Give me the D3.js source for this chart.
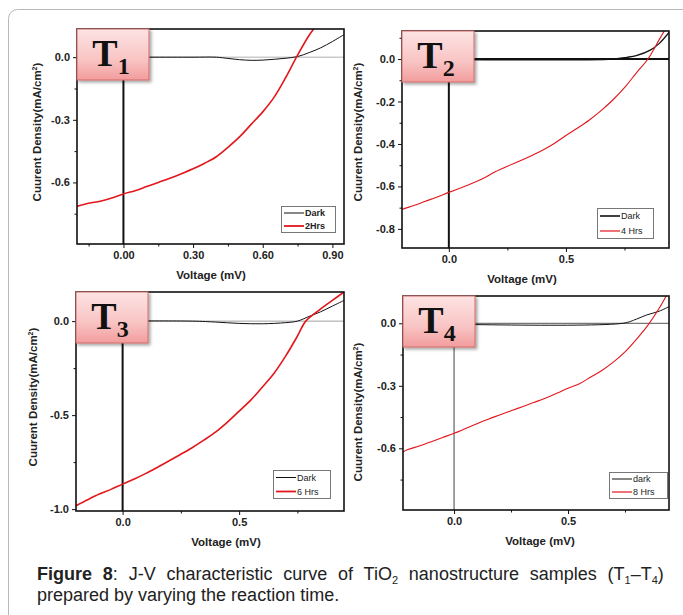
<!DOCTYPE html>
<html>
<head>
<meta charset="utf-8">
<script src="https://cdn.jsdelivr.net/npm/d3@7"></script>
<style>
  body { margin: 0; background: #fff; }
  svg { display: block; }
</style>
</head>
<body>
<svg id="fig" width="683" height="615"></svg>
<script>
// J-V curves, four samples (T1..T4): voltage (mV) vs current density (mA/cm2)
const panelNames = ["1", "2", "3", "4"];
const legendLabels = [["Dark", "2Hrs"], ["Dark", "4 Hrs"], ["Dark", "6 Hrs"], ["dark", "8 Hrs"]];

const voltT1Red = [-0.2, -0.15, -0.1, -0.05, 0, 0.05, 0.1, 0.15, 0.2, 0.25, 0.3, 0.35, 0.4, 0.45, 0.5, 0.55, 0.6, 0.65, 0.7, 0.75, 0.8, 0.83];
const currT1Red = [-0.715, -0.70, -0.69, -0.675, -0.655, -0.64, -0.62, -0.60, -0.58, -0.558, -0.535, -0.508, -0.477, -0.432, -0.382, -0.322, -0.262, -0.19, -0.095, 0.01, 0.105, 0.15];
const voltT1Dark = [-0.2, 0.1, 0.3, 0.4, 0.45, 0.5, 0.55, 0.6, 0.65, 0.7, 0.75, 0.8, 0.85, 0.9, 0.95];
const currT1Dark = [0, 0, 0, 0, -0.006, -0.012, -0.015, -0.014, -0.01, -0.005, 0.003, 0.022, 0.045, 0.075, 0.108];

const voltT2Red = [-0.2, -0.15, -0.1, -0.05, 0, 0.05, 0.1, 0.15, 0.2, 0.25, 0.3, 0.35, 0.4, 0.45, 0.5, 0.55, 0.6, 0.65, 0.7, 0.75, 0.8, 0.85, 0.9, 0.94];
const currT2Red = [-0.708, -0.69, -0.67, -0.65, -0.628, -0.607, -0.585, -0.56, -0.53, -0.505, -0.482, -0.457, -0.43, -0.398, -0.36, -0.325, -0.287, -0.243, -0.193, -0.135, -0.066, 0.0, 0.095, 0.17];
const voltT2Dark = [-0.2, 0.7, 0.76, 0.8, 0.86, 0.9, 0.94];
const currT2Dark = [0, 0, 0.008, 0.016, 0.042, 0.075, 0.125];

const voltT3Red = [-0.2, -0.15, -0.1, -0.05, 0, 0.05, 0.1, 0.15, 0.2, 0.25, 0.3, 0.35, 0.4, 0.45, 0.5, 0.55, 0.6, 0.65, 0.7, 0.75, 0.786, 0.85, 0.9, 0.95];
const currT3Red = [-0.982, -0.95, -0.92, -0.895, -0.867, -0.84, -0.81, -0.777, -0.743, -0.708, -0.672, -0.632, -0.589, -0.537, -0.479, -0.42, -0.35, -0.277, -0.185, -0.08, 0.0, 0.065, 0.11, 0.155];
const voltT3Dark = [-0.2, 0.3, 0.4, 0.5, 0.6, 0.7, 0.75, 0.8, 0.85, 0.9, 0.95];
const currT3Dark = [0, 0, -0.005, -0.012, -0.014, -0.008, 0, 0.025, 0.05, 0.08, 0.11];

const voltT4Red = [-0.224, -0.2, -0.15, -0.1, -0.05, 0, 0.05, 0.1, 0.15, 0.2, 0.25, 0.3, 0.35, 0.4, 0.45, 0.5, 0.55, 0.6, 0.65, 0.7, 0.75, 0.8, 0.85, 0.9, 0.94];
const currT4Red = [-0.618, -0.605, -0.588, -0.568, -0.548, -0.528, -0.505, -0.482, -0.46, -0.44, -0.42, -0.40, -0.38, -0.36, -0.336, -0.312, -0.29, -0.258, -0.225, -0.185, -0.137, -0.077, -0.01, 0.072, 0.15];
const voltT4Dark = [-0.224, 0.74, 0.8, 0.845, 0.9, 0.943];
const currT4Dark = [0, 0, 0.02, 0.04, 0.058, 0.08];

// axis ranges and tick values
const xDomains = [[-0.2, 0.95], [-0.2, 0.94], [-0.2, 0.95], [-0.224, 0.943]];
const yDomains = [[-0.895, 0.135], [-0.89, 0.132], [-1.01, 0.155], [-0.896, 0.131]];
const xTickVals = [[0, 0.3, 0.6, 0.9], [0, 0.5], [0, 0.5], [0, 0.5]];
const xMinorVals = [[-0.15, 0.15, 0.45, 0.75], [0.25, 0.75], [0.25, 0.75], [0.25, 0.75]];
const yTickVals = [[0, -0.3, -0.6], [0, -0.2, -0.4, -0.6, -0.8], [0, -0.5, -1.0], [0, -0.3, -0.6]];
const yMinorVals = [[-0.15, -0.45, -0.75], [0.1, -0.1, -0.3, -0.5, -0.7], [-0.25, -0.75], [-0.15, -0.45, -0.75]];
const xTickFormats = [".2f", ".1f", ".1f", ".1f"];

const redColor = "#e3161b";
const sans = "'Liberation Sans', Arial, sans-serif";

// where each panel sits on the page
const layout = [
  { left: 77, right: 344, top: 29, bottom: 244, xTitleX: 211, yTitleY: 132, yTitleDx: 40,
    legend: [281, 206, 54, 26], redWidth: 1.6, zeroColor: "#b0b0b0", zeroWidth: 1, vWidth: 2, legendBold: true },
  { left: 402, right: 669, top: 31, bottom: 248, xTitleX: 522, yTitleY: 132, yTitleDx: 44,
    legend: [597, 208, 56, 30], redWidth: 1.1, zeroColor: "#111", zeroWidth: 2, vWidth: 2, legendBold: false },
  { left: 76, right: 344, top: 292, bottom: 511, xTitleX: 226, yTitleY: 397, yTitleDx: 43,
    legend: [273, 470, 57, 28], redWidth: 1.6, zeroColor: "#a0a0a0", zeroWidth: 1, vWidth: 2, legendBold: false },
  { left: 403, right: 669, top: 296, bottom: 510, xTitleX: 540, yTitleY: 412, yTitleDx: 45,
    legend: [609, 472, 58, 26], redWidth: 1.1, zeroColor: "#555", zeroWidth: 1, vWidth: 1, legendBold: false }
];

const redSeries = [[voltT1Red, currT1Red], [voltT2Red, currT2Red], [voltT3Red, currT3Red], [voltT4Red, currT4Red]];
const darkSeries = [[voltT1Dark, currT1Dark], [voltT2Dark, currT2Dark], [voltT3Dark, currT3Dark], [voltT4Dark, currT4Dark]];

const svg = d3.select("#fig");

// outer rounded frame
svg.append("rect")
  .attr("x", 8.5).attr("y", 9.5)
  .attr("width", 700).attr("height", 640)
  .attr("rx", 9)
  .attr("fill", "none")
  .attr("stroke", "#b8b8b8")
  .attr("stroke-width", 1);

const defs = svg.append("defs");
const grad = defs.append("linearGradient")
  .attr("id", "pinkGrad")
  .attr("x1", 0).attr("y1", 0).attr("x2", 0).attr("y2", 1);
grad.append("stop").attr("offset", "0%").attr("stop-color", "#fde3e3");
grad.append("stop").attr("offset", "60%").attr("stop-color", "#f9c4c4");
grad.append("stop").attr("offset", "100%").attr("stop-color", "#f29c9c");

defs.append("filter")
  .attr("id", "boxShadow")
  .attr("x", "-20%").attr("y", "-20%").attr("width", "150%").attr("height", "150%")
  .append("feDropShadow")
  .attr("dx", 2).attr("dy", 2).attr("stdDeviation", 1.6)
  .attr("flood-color", "#000").attr("flood-opacity", 0.35);

function toPoints(series) {
  return series[0].map((v, i) => ({ x: v, y: series[1][i] }));
}

// Origin-style labels use a plain hyphen for negatives
function hyphenFormat(spec) {
  const f = d3.format(spec);
  return (d) => f(d).replace("\u2212", "-");
}

function drawPanel(i) {
  const L = layout[i];
  const x = d3.scaleLinear().domain(xDomains[i]).range([L.left, L.right]);
  const y = d3.scaleLinear().domain(yDomains[i]).range([L.bottom, L.top]);
  const g = svg.append("g").attr("class", "panel");

  defs.append("clipPath").attr("id", "clip" + i)
    .append("rect")
    .attr("x", L.left).attr("y", L.top)
    .attr("width", L.right - L.left).attr("height", L.bottom - L.top);

  const plot = g.append("g").attr("clip-path", `url(#clip${i})`);

  // zero reference lines
  plot.append("line")
    .attr("x1", L.left).attr("x2", L.right)
    .attr("y1", y(0)).attr("y2", y(0))
    .attr("stroke", L.zeroColor).attr("stroke-width", L.zeroWidth);
  plot.append("line")
    .attr("x1", x(0)).attr("x2", x(0))
    .attr("y1", L.top).attr("y2", L.bottom)
    .attr("stroke", i === 3 ? "#444" : "#111").attr("stroke-width", L.vWidth);

  const line = d3.line()
    .x((d) => x(d.x))
    .y((d) => y(d.y))
    .curve(d3.curveCatmullRom.alpha(0.5));

  plot.append("path")
    .datum(toPoints(darkSeries[i]))
    .attr("d", line)
    .attr("fill", "none")
    .attr("stroke", "#111")
    .attr("stroke-width", i === 1 ? 1.3 : 1);

  plot.append("path")
    .datum(toPoints(redSeries[i]))
    .attr("d", line)
    .attr("fill", "none")
    .attr("stroke", redColor)
    .attr("stroke-width", L.redWidth);

  // axes (ticks outward), box closed by the frame rect
  const xAxis = g.append("g")
    .attr("transform", `translate(0,${L.bottom})`)
    .call(d3.axisBottom(x).tickValues(xTickVals[i]).tickSize(4).tickPadding(3).tickFormat(hyphenFormat(xTickFormats[i])));
  g.append("g")
    .attr("transform", `translate(0,${L.bottom})`)
    .call(d3.axisBottom(x).tickValues(xMinorVals[i]).tickSize(2.5).tickFormat(""));
  const yAxis = g.append("g")
    .attr("transform", `translate(${L.left},0)`)
    .call(d3.axisLeft(y).tickValues(yTickVals[i]).tickSize(4).tickPadding(3).tickFormat(hyphenFormat(".1f")));
  g.append("g")
    .attr("transform", `translate(${L.left},0)`)
    .call(d3.axisLeft(y).tickValues(yMinorVals[i]).tickSize(2.5).tickFormat(""));

  g.selectAll(".domain").remove();
  g.selectAll(".tick line").attr("stroke", "#111").attr("stroke-width", 1);
  [xAxis, yAxis].forEach((a) => a.selectAll("text")
    .attr("font-family", sans)
    .attr("font-size", 11)
    .attr("font-weight", "bold")
    .attr("fill", "#222"));

  g.append("rect")
    .attr("x", L.left).attr("y", L.top)
    .attr("width", L.right - L.left).attr("height", L.bottom - L.top)
    .attr("fill", "none")
    .attr("stroke", "#111")
    .attr("stroke-width", 1.6);

  // axis titles
  g.append("text")
    .attr("x", L.xTitleX).attr("y", L.bottom + 35)
    .attr("text-anchor", "middle")
    .attr("font-family", sans).attr("font-size", 11.5).attr("font-weight", "bold")
    .attr("fill", "#222")
    .text("Voltage (mV)");

  const yt = g.append("text")
    .attr("transform", `translate(${L.left - L.yTitleDx + 4},${L.yTitleY}) rotate(-90)`)
    .attr("text-anchor", "middle")
    .attr("font-family", sans).attr("font-size", 11.5).attr("font-weight", "bold")
    .attr("fill", "#222");
  yt.append("tspan").text("Cuurent Density(mA/cm");
  yt.append("tspan").attr("dy", -4).attr("font-size", 7).text("2");
  yt.append("tspan").attr("dy", 4).text(")");

  // legend
  const [lx, ly, lw, lh] = L.legend;
  const leg = g.append("g");
  leg.append("rect")
    .attr("x", lx + 0.5).attr("y", ly + 0.5).attr("width", lw).attr("height", lh)
    .attr("fill", "#fff").attr("stroke", "#777").attr("stroke-width", 1);
  const rowH = lh / 2;
  legendLabels[i].forEach((lab, k) => {
    const cy = ly + rowH * (k + 0.5) + 0.5;
    leg.append("line")
      .attr("x1", lx + 3).attr("x2", lx + 23)
      .attr("y1", cy).attr("y2", cy)
      .attr("stroke", k === 0 ? "#111" : redColor)
      .attr("stroke-width", k === 0 ? (i === 1 ? 1.6 : 1) : (i % 2 === 0 ? 1.8 : 1.2));
    leg.append("text")
      .attr("x", lx + 24).attr("y", cy + 3.3)
      .attr("font-family", sans).attr("font-size", 9)
      .attr("font-weight", L.legendBold ? "bold" : "normal")
      .attr("fill", "#222")
      .text(lab);
  });

  // sample tag (T with subscript) in the top-left corner
  const tag = g.append("g");
  tag.append("rect")
    .attr("x", L.left).attr("y", L.top)
    .attr("width", 72).attr("height", 51)
    .attr("fill", "url(#pinkGrad)")
    .attr("stroke", "#d06a6a").attr("stroke-width", 1)
    .attr("filter", "url(#boxShadow)");
  const tt = tag.append("text")
    .attr("x", L.left + 34).attr("y", L.top + 37)
    .attr("text-anchor", "middle")
    .attr("font-family", "'Liberation Serif', 'Times New Roman', serif")
    .attr("font-weight", "bold")
    .attr("fill", "#111");
  tt.append("tspan").attr("font-size", 38).text("T");
  tt.append("tspan").attr("font-size", 24).attr("dy", 8).text(panelNames[i]);
}

d3.range(4).forEach(drawPanel);

// caption
const cap = svg.append("g").attr("font-family", sans).attr("font-size", 18).attr("fill", "#222");
const line1 = cap.append("text").attr("x", 37).attr("y", 580);
line1.append("tspan").attr("font-weight", "bold").text("Figure 8");
line1.append("tspan").text(": J-V characteristic curve of TiO");
line1.append("tspan").attr("font-size", 11).attr("dy", 4).text("2");
line1.append("tspan").attr("dy", -4).text(" nanostructure samples (T");
line1.append("tspan").attr("font-size", 11).attr("dy", 4).text("1");
line1.append("tspan").attr("dy", -4).text("–T");
line1.append("tspan").attr("font-size", 11).attr("dy", 4).text("4");
line1.append("tspan").attr("dy", -4).text(")");

// justify the first line to the right margin
const natural = line1.node().getComputedTextLength();
const gaps = 8;
line1.attr("word-spacing", Math.max(0, (658 - 37 - natural) / gaps));

cap.append("text").attr("x", 37).attr("y", 601)
  .text("prepared by varying the reaction time.");
</script>
</body>
</html>
